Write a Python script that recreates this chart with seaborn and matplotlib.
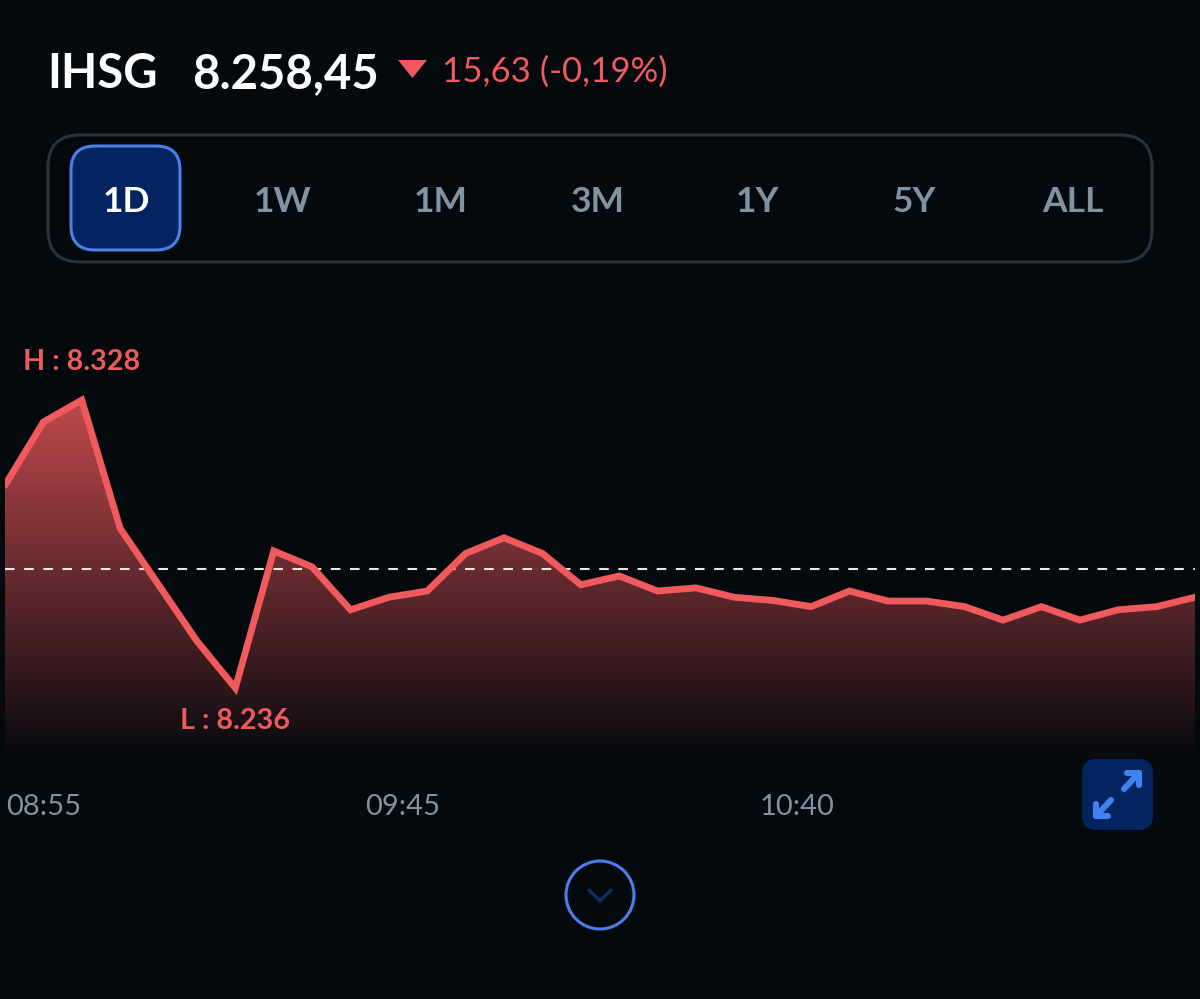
import numpy as np
import pandas as pd
import seaborn as sns
import matplotlib.pyplot as plt
from matplotlib.patches import FancyBboxPatch, PathPatch, Circle, Polygon

# values
sample = list(range(32))
price = [8300.8, 8321, 8328, 8287, 8269, 8251, 8236, 8279.8, 8274.7, 8261, 8265, 8267,
         8279, 8284, 8279, 8269, 8271.8, 8267, 8268, 8265, 8264, 8262, 8267, 8263.8,
         8263.8, 8262, 8257.7, 8262, 8257.7, 8261, 8262, 8265]
prev_close = 8274.08
tick_samples = [1, 10.35, 20.64]
tick_labels = ['08:55', '09:45', '10:40']
ranges = ['1D', '1W', '1M', '3M', '1Y', '5Y', 'ALL']
range_x = [126, 283, 441, 598, 757, 914, 1073]

BG = '#04090e'
RED = '#f05a5c'
GREY = '#7f93a3'
BLUE = '#4a80e8'
NAVY = '#03245f'

sns.set_theme(style='dark', rc={'figure.facecolor': BG, 'axes.facecolor': BG})
plt.rcParams['font.family'] = ['Lato', 'DejaVu Sans']

df = pd.DataFrame({'sample': sample, 'price': price})

fig = plt.figure(figsize=(12, 9.99), dpi=100)

# chart area, 5..1195 px wide and 330..765 px down the image
ax = fig.add_axes([5 / 1200, (999 - 765) / 999, 1190 / 1200, 435 / 999])
ax.set_facecolor(BG)
y_bottom, y_top = 8211.4, 8350.4

# red fill that fades out towards the bottom
grad = np.zeros((256, 1, 4))
grad[:, 0, :3] = (0.94, 0.35, 0.36)
grad[:, 0, 3] = np.linspace(0.8, 0, 256)
im = ax.imshow(grad, extent=[0, 31, y_bottom, max(price)], aspect='auto', zorder=1)
fill = ax.fill_between(df['sample'], df['price'], y_bottom, color='none')
clip = PathPatch(fill.get_paths()[0], transform=ax.transData, fc='none', ec='none')
ax.add_patch(clip)
im.set_clip_path(clip)

ax.axhline(prev_close, color='#e8e8e8', lw=1.5, dashes=(4.6, 4.6), zorder=2)
sns.lineplot(data=df, x='sample', y='price', color=RED, lw=4.9, ax=ax, zorder=3,
             solid_joinstyle='miter', errorbar=None)

ax.set_xlim(0, 31)
ax.set_ylim(y_bottom, y_top)
ax.set_xlabel('')
ax.set_ylabel('')
ax.set_yticks([])
ax.set_xticks(tick_samples)
ax.set_xticklabels(tick_labels, fontsize=21, color=GREY)
ax.tick_params(axis='x', length=0, pad=21)
sns.despine(ax=ax, left=True, bottom=True)

# high / low labels
hi = df.loc[df['price'].idxmax()]
lo = df.loc[df['price'].idxmin()]
ax.annotate('H : ' + f"{hi['price']:,.0f}".replace(',', '.'), (hi['sample'], hi['price']),
            xytext=(0, 27.5), textcoords='offset points', ha='center', va='center',
            color=RED, fontsize=20.7, fontweight='bold')
ax.annotate('L : ' + f"{lo['price']:,.0f}".replace(',', '.'), (lo['sample'], lo['price']),
            xytext=(0, -23.5), textcoords='offset points', ha='center', va='center',
            color=RED, fontsize=20.7, fontweight='bold')

# overlay in image pixels for the app chrome
ui = fig.add_axes([0, 0, 1, 1], facecolor='none')
ui.set_xlim(0, 1200)
ui.set_ylim(999, 0)
ui.axis('off')

ui.text(47, 74, 'IHSG', color='white', fontsize=34, fontweight='bold', va='center')
ui.text(192, 74, '8.258,45', color='white', fontsize=34, fontweight='bold', va='center')
ui.add_patch(Polygon([(398, 60), (427, 60), (412.5, 78)], closed=True, fc=RED, ec='none'))
ui.text(442, 72, '15,63 (-0,19%)', color=RED, fontsize=25, va='center')

ui.add_patch(FancyBboxPatch((48 + 32, 135 + 32), 1104 - 64, 127 - 64, boxstyle='round,pad=32',
                            fc='none', ec='#27333f', lw=2.2))
ui.add_patch(FancyBboxPatch((71 + 24, 146 + 24), 109 - 48, 104 - 48, boxstyle='round,pad=24',
                            fc=NAVY, ec=BLUE, lw=2.2))
for lab, x in zip(ranges, range_x):
    ui.text(x, 202, lab, color='white' if lab == '1D' else GREY, fontsize=25.5,
            fontweight='bold', ha='center', va='center')

# expand button
ui.add_patch(FancyBboxPatch((1082 + 14, 759 + 14), 71 - 28, 71 - 28, boxstyle='round,pad=14',
                            fc=NAVY, ec='none'))
arrow_kw = dict(color='#3f82f0', lw=4.4, solid_capstyle='round', solid_joinstyle='round')
ui.plot([1124, 1139], [789, 773], **arrow_kw)
ui.plot([1127, 1139, 1139], [773, 773, 785], **arrow_kw)
ui.plot([1111, 1096], [800, 816], **arrow_kw)
ui.plot([1096, 1096, 1108], [804, 816, 816], **arrow_kw)

# collapse button
ui.add_patch(Circle((600, 895), 34, fc='none', ec=BLUE, lw=2.2))
ui.plot([589, 600, 611], [890, 901, 890], color='#0f2c63', lw=2.6)

fig.savefig('out.png', dpi=100, facecolor=BG)
